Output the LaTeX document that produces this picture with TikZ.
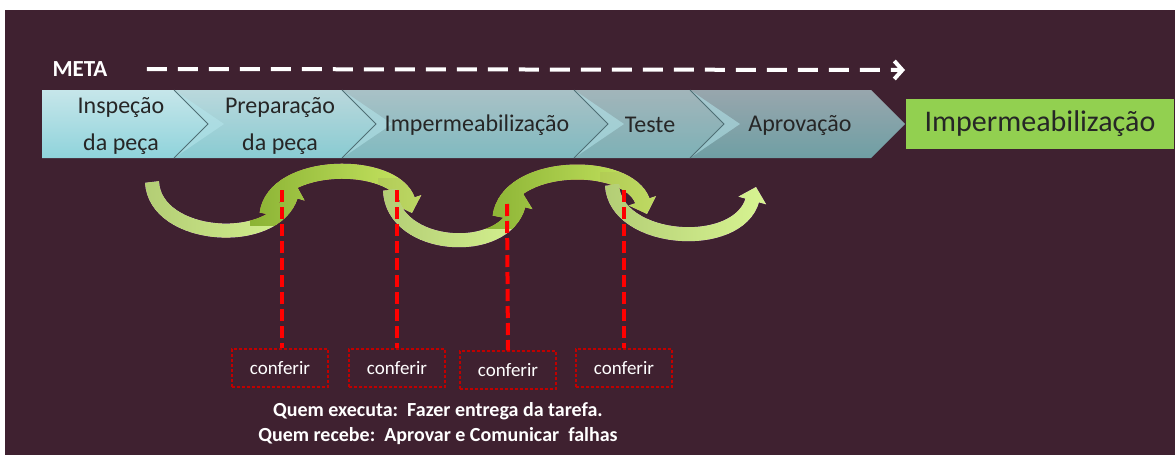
\documentclass[tikz,border=0pt]{standalone}
\usepackage{fontspec}
\setmainfont{Carlito}
\usepackage{xcolor}
\usepackage{tikz}
\usetikzlibrary{arrows.meta}
\definecolor{PRBack}{HTML}{3F2130}
\definecolor{PRGreen}{HTML}{92D050}
\definecolor{PRInk}{HTML}{262626}
\definecolor{PRBoxLine}{HTML}{C00000}
\definecolor{PRBevel}{HTML}{B5E6EC}
\definecolor{PREdge}{HTML}{4F6F75}
\definecolor{PRTopA}{HTML}{C6E6EA}
\definecolor{PRBotA}{HTML}{8FD3DB}
\definecolor{PRTopB}{HTML}{BAD8DC}
\definecolor{PRBotB}{HTML}{89CBD2}
\definecolor{PRTopC}{HTML}{A9C1C6}
\definecolor{PRBotC}{HTML}{80BAC0}
\definecolor{PRTopD}{HTML}{A2B5BA}
\definecolor{PRBotD}{HTML}{7DB1B6}
\definecolor{PRTopE}{HTML}{98A6AD}
\definecolor{PRBotE}{HTML}{6F9FA4}
\definecolor{PRUpL}{HTML}{B2CC74}
\definecolor{PRUpM}{HTML}{9CC43E}
\definecolor{PRUpR}{HTML}{D9F693}
\definecolor{PROvL}{HTML}{8BB334}
\definecolor{PROvM}{HTML}{B7D967}
\definecolor{PROvR}{HTML}{CDEA66}

\begin{document}
\begin{tikzpicture}[x=1pt,y=-1pt,
  stage/.style={text=PRInk,align=center,font=\fontsize{24pt}{37pt}\selectfont},
  goal/.style={fill=PRGreen,text=PRInk,minimum width=268pt,minimum height=50pt,inner sep=0pt,font=\fontsize{30pt}{36pt}\selectfont},
  chk/.style={draw=PRBoxLine,densely dashed,line width=1.2pt,minimum width=96pt,minimum height=38pt,inner sep=0pt,text=white,font=\fontsize{19pt}{23pt}\selectfont},
  probe/.style={draw=red,line width=4pt,dash pattern=on 12pt off 5pt},
  curlarrow/.style={white,line width=#1,-{Triangle[width=28pt,length=14pt]}},
  curlarrow/.default=14pt]
\path[use as bounding box] (0,0) rectangle (1175,455);
\fill[white] (0,0) rectangle (1175,455);
\fill[PRBack] (5,10) rectangle (1175,455);

% curved arrows (white band, then darkened by a shade)
\coordinate (a1s) at (152,182);
\coordinate (a1e) at (295,183);
\draw[curlarrow] (a1s) .. controls (155,240) and (275,248) .. (a1e);
\shade[blend mode=darken,left color=PRUpL,middle color=PRUpM,right color=PRUpR] (140,170) rectangle (312,250);
\coordinate (a2s) at (267,214);
\coordinate (a2e) at (412,213);
\draw[curlarrow=15pt] (a2s) .. controls (274,160) and (394,159) .. (a2e);
\shade[blend mode=darken,left color=PROvL,middle color=PROvM,right color=PROvR] (250,159) rectangle (430,225);
\coordinate (a3s) at (390,190);
\coordinate (a3e) at (522,192);
\draw[curlarrow] (a3s) .. controls (392,250) and (505,258) .. (a3e);
\shade[blend mode=darken,left color=PRUpL,middle color=PRUpM,right color=PRUpR] (378,178) rectangle (540,258);
\coordinate (a4s) at (500,217);
\coordinate (a4e) at (647,214);
\draw[curlarrow=15pt] (a4s) .. controls (507,161) and (628,159) .. (a4e);
\shade[blend mode=darken,left color=PROvL,middle color=PROvM,right color=PROvR] (484,159) rectangle (665,228);
\coordinate (a5s) at (612,185);
\coordinate (a5e) at (756,187);
\draw[curlarrow] (a5s) .. controls (615,243) and (738,252) .. (a5e);
\shade[blend mode=darken,left color=PRUpL,middle color=PRUpM,right color=PRUpR] (600,172) rectangle (773,252);

% chevron bar
\shade[top color=PRTopA,bottom color=PRBotA] (42,90) -- (174,90) -- (208,124) -- (174,158) -- (42,158) -- cycle;
\foreach \l/\s/\n in {174/342/B,342/574/C,574/690/D,690/871/E}
  \shade[top color=PRTop\n,bottom color=PRBot\n] (\l,90) -- (\s,90) -- ({\s+34},124) -- (\s,158) -- (\l,158) -- ({\l+34},124) -- cycle;
\foreach \s in {174,342,574,690}{
  \fill[PRBevel,opacity=.55] (\s,90) -- ({\s+50},124) -- (\s,158) -- ({\s+34},124) -- cycle;
  \draw[PREdge,line width=.8pt] (\s,90) -- ({\s+34},124) -- (\s,158);
}
\node[stage] (insp) at (121,126) {Inspeção\\da peça};
\node[stage] (prep) at (280,126) {Preparação\\da peça};
\node[stage] (imp) at (477,125) {Impermeabilização};
\node[stage] (test) at (650,125) {Teste};
\node[stage] (aprov) at (800,125) {Aprovação};
\node[goal] (final) at (1040,124) {Impermeabilização};

% meta
\node[anchor=west,text=white,font=\bfseries\fontsize{23pt}{26pt}\selectfont] (meta) at (49,69) {META};
\coordinate (metaend) at (905,70);
\draw[white,line width=4pt,dash pattern=on 20pt off 11pt,-{Straight Barb[length=8pt,width=18pt]}] ([xshift=36pt]meta.east) -- (metaend);

% checks
\node[chk] (c1) at (280,368) {conferir};
\node[chk] (c2) at (397,368) {conferir};
\node[chk] (c3) at (508,370) {conferir};
\node[chk] (c4) at (624,368) {conferir};
\coordinate (p1) at (282,190);
\coordinate (p2) at (397,190);
\coordinate (p3) at (507,204);
\coordinate (p4) at (624,190);
\draw[probe] (p1) -- (p1 |- c1.north);
\draw[probe] (p2) -- (c2.north);
\draw[probe] (p3) -- (c3.north);
\draw[probe] (p4) -- (c4.north);

\node[text=white,align=center,font=\bfseries\fontsize{20pt}{25pt}\selectfont] (note) at (438,424)
  {Quem executa:~~Fazer entrega da tarefa.\\Quem recebe:~~Aprovar e Comunicar~~falhas};
\end{tikzpicture}
\end{document}
